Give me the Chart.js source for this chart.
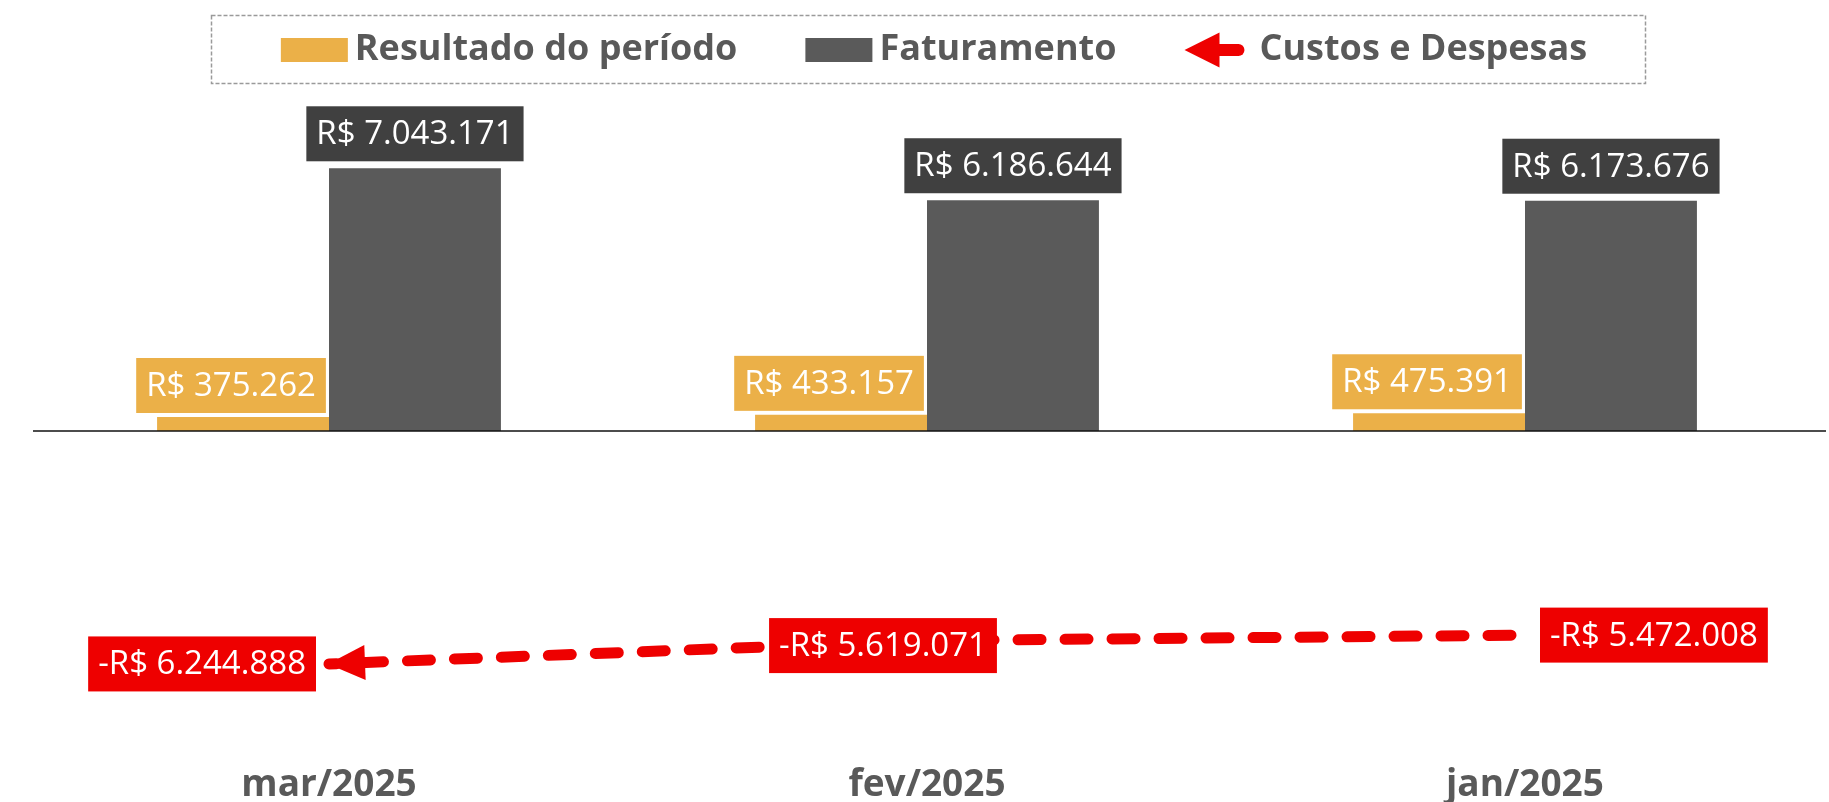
<!DOCTYPE html>
<html><head><meta charset="utf-8">
<script src="https://cdn.jsdelivr.net/npm/chart.js@4"></script>
<style>html,body{margin:0;padding:0;background:#fff;overflow:hidden}#wrap{width:1829px;height:802px;position:relative}canvas{display:block}</style>
</head><body><div id="wrap"><canvas id="c" width="1829" height="802" style="width:1829px;height:802px"></canvas></div>
<script>
// ---- data ----
const categories = ['mar/2025', 'fev/2025', 'jan/2025'];
const resultado = [375262, 433157, 475391];
const faturamento = [7043171, 6186644, 6173676];
const custos = [-6244888, -5619071, -5472008];
const seriesNames = ['Resultado do período', 'Faturamento', 'Custos e Despesas'];

// ---- styles ----
const ORANGE = '#EBB048', DARK = '#5A5A5A', DARK_LABEL = '#404040', RED = '#EE0000', GRAY_TXT = '#595959';
const LABEL_FONT = '33px "Open Sans"';
const custosLabelPos = [
  {align: 'left', gap: 13, dy: 0},
  {align: 'center', dx: -44, dy: 5},
  {align: 'right', gap: 15, dy: 0}
];

function fmt(v) {
  const s = Math.abs(Math.round(v)).toString().replace(/\B(?=(\d{3})+(?!\d))/g, '.');
  return (v < 0 ? '-' : '') + 'R$ ' + s;
}
function box(ctx, text, left, cy, bg) {
  const w = ctx.measureText(text).width + 20, h = 55;
  ctx.fillStyle = bg;
  ctx.fillRect(left, cy - h / 2, w, h);
  ctx.fillStyle = '#fff';
  ctx.textAlign = 'center';
  ctx.textBaseline = 'middle';
  ctx.fillText(text, left + w / 2, cy + 1);
}

const labelPlugin = {
  id: 'valueLabels',
  afterDatasetsDraw(chart) {
    const ctx = chart.ctx, ca = chart.chartArea;
    ctx.save();
    // zero axis line, over the bars
    const y0 = Math.round(chart.scales.y.getPixelForValue(0));
    ctx.strokeStyle = '#111';
    ctx.lineWidth = 1.6;
    ctx.beginPath();
    ctx.moveTo(ca.left + 3, y0);
    ctx.lineTo(ca.right + 2, y0);
    ctx.stroke();

    // arrow head on first point of the line
    const lm = chart.getDatasetMeta(2).data;
    const p0 = lm[0], p1 = lm[1];
    let ux = p0.x - p1.x, uy = p0.y - p1.y;
    const L = Math.hypot(ux, uy); ux /= L; uy /= L;
    const tx = p0.x + ux, ty = p0.y + uy;
    const bx = tx - ux * 37, by = ty - uy * 37;
    ctx.fillStyle = RED;
    ctx.beginPath();
    ctx.moveTo(tx, ty);
    ctx.lineTo(bx - uy * 17.5, by + ux * 17.5);
    ctx.lineTo(bx + uy * 17.5, by - ux * 17.5);
    ctx.closePath();
    ctx.fill();

    ctx.font = LABEL_FONT;
    const mR = chart.getDatasetMeta(0).data, mF = chart.getDatasetMeta(1).data;
    mF.forEach((b, i) => {
      const t = fmt(faturamento[i]);
      const w = ctx.measureText(t).width + 20;
      box(ctx, t, b.x - w / 2, b.y - 7 - 27.5, DARK_LABEL);
    });
    mR.forEach((b, i) => {
      const t = fmt(resultado[i]);
      const w = ctx.measureText(t).width + 20;
      box(ctx, t, b.x - 12 - w / 2, b.y - 4 - 27.5, ORANGE);
    });
    lm.forEach((p, i) => {
      const t = fmt(custos[i]);
      const w = ctx.measureText(t).width + 20;
      const cfg = custosLabelPos[i];
      let left;
      if (cfg.align === 'left') left = p.x - cfg.gap - w;
      else if (cfg.align === 'right') left = p.x + cfg.gap;
      else left = p.x + cfg.dx - w / 2;
      box(ctx, t, left, p.y + cfg.dy, RED);
    });
    ctx.restore();
  }
};

const legendPlugin = {
  id: 'customLegend',
  afterDraw(chart) {
    const ctx = chart.ctx, ca = chart.chartArea;
    ctx.save();
    ctx.font = 'bold 36px "Open Sans"';
    const swW = 67, swH = 24, gapS = 7, gapItem = 68, arrowW = 60, gapA = 15;
    const items = chart.data.datasets.map(d => ({
      label: d.label, color: d.legendColor, line: d.type === 'line',
      tw: ctx.measureText(d.label).width
    }));
    let total = 0;
    items.forEach((it, i) => {
      total += (it.line ? arrowW + gapA : swW + gapS) + it.tw + (i < items.length - 1 ? gapItem : 0);
    });
    let x = (ca.left + ca.right) / 2 + 7 - total / 2;
    const cy = 50;
    ctx.setLineDash([4, 2]);
    ctx.strokeStyle = '#9a9a9a';
    ctx.lineWidth = 1.5;
    ctx.strokeRect(Math.round(x - 70) + 0.5, 15.5, Math.round(total + 128), 68);
    ctx.setLineDash([]);
    items.forEach(it => {
      if (it.line) {
        ctx.fillStyle = it.color;
        ctx.beginPath();
        ctx.moveTo(x, cy);
        ctx.lineTo(x + 35, cy - 17.5);
        ctx.lineTo(x + 35, cy + 17.5);
        ctx.closePath();
        ctx.fill();
        ctx.strokeStyle = it.color;
        ctx.lineWidth = 12;
        ctx.lineCap = 'round';
        ctx.beginPath();
        ctx.moveTo(x + 30, cy);
        ctx.lineTo(x + arrowW - 6, cy);
        ctx.stroke();
        x += arrowW + gapA;
      } else {
        ctx.fillStyle = it.color;
        ctx.fillRect(x, cy - swH / 2, swW, swH);
        x += swW + gapS;
      }
      ctx.fillStyle = GRAY_TXT;
      ctx.textAlign = 'left';
      ctx.textBaseline = 'middle';
      ctx.fillText(it.label, x, cy);
      x += it.tw + gapItem;
    });
    ctx.restore();
  }
};

new Chart(document.getElementById('c'), {
  data: {
    labels: categories,
    datasets: [
      {type: 'bar', label: seriesNames[0], data: resultado, backgroundColor: ORANGE, legendColor: ORANGE,
       categoryPercentage: 0.575, barPercentage: 1.0},
      {type: 'bar', label: seriesNames[1], data: faturamento, backgroundColor: DARK, legendColor: DARK,
       categoryPercentage: 0.575, barPercentage: 1.0},
      {type: 'line', label: seriesNames[2], data: custos, borderColor: RED, legendColor: RED,
       borderWidth: 11, borderDash: [23, 24], borderDashOffset: 15.5, borderCapStyle: 'round',
       pointRadius: 0, tension: 0, fill: false}
    ]
  },
  options: {
    responsive: false,
    animation: false,
    devicePixelRatio: 1,
    layout: {padding: {top: 100, left: 30, right: 5, bottom: 0}},
    plugins: {legend: {display: false}, tooltip: {enabled: false}},
    scales: {
      x: {
        grid: {display: false, drawTicks: false},
        border: {display: false},
        ticks: {color: GRAY_TXT, font: {family: 'Open Sans', weight: 'bold', size: 37, lineHeight: 1.2}, padding: 38},
        afterFit: s => { s.height = 77; }
      },
      y: {
        display: false,
        min: -7.882e6, max: 8.874e6,
        afterFit: s => { s.width = 0; }
      }
    }
  },
  plugins: [labelPlugin, legendPlugin]
});
</script>
</body></html>
